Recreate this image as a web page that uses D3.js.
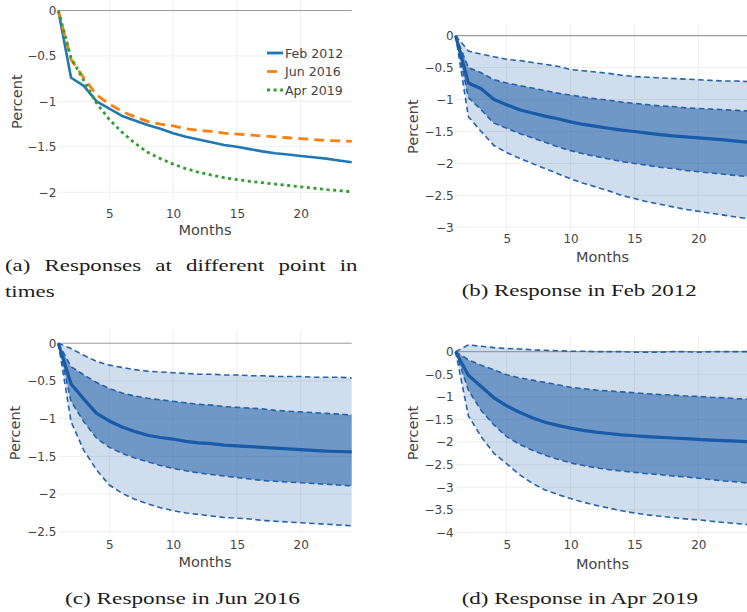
<!DOCTYPE html>
<html>
<head>
<meta charset="utf-8">
<script src="https://cdn.jsdelivr.net/npm/d3@7"></script>
<style>
  html, body { margin: 0; padding: 0; background: #fff; }
  svg { display: block; }
</style>
</head>
<body>
<svg id="fig" width="747" height="612"></svg>
<script>
// ---- data: impulse responses (percent) by month after the shock ----
const months = [1,2,3,4,5,6,7,8,9,10,11,12,13,14,15,16,17,18,19,20,21,22,23,24];

const feb2012       = [0,-0.74,-0.83,-1.00,-1.08,-1.16,-1.21,-1.26,-1.30,-1.35,-1.39,-1.42,-1.45,-1.48,-1.50,-1.525,-1.55,-1.57,-1.585,-1.60,-1.615,-1.63,-1.65,-1.67];
const feb2012Hi95   = [0,-0.24,-0.29,-0.33,-0.37,-0.39,-0.42,-0.45,-0.48,-0.53,-0.55,-0.57,-0.59,-0.62,-0.64,-0.65,-0.66,-0.67,-0.68,-0.69,-0.70,-0.71,-0.71,-0.72];
const feb2012Hi68   = [0,-0.50,-0.58,-0.69,-0.74,-0.78,-0.82,-0.86,-0.90,-0.93,-0.96,-0.99,-1.01,-1.04,-1.06,-1.08,-1.10,-1.11,-1.13,-1.14,-1.15,-1.16,-1.17,-1.18];
const feb2012Lo68   = [0,-0.97,-1.16,-1.37,-1.45,-1.53,-1.60,-1.67,-1.74,-1.80,-1.85,-1.89,-1.93,-1.97,-2.00,-2.03,-2.06,-2.08,-2.11,-2.13,-2.15,-2.17,-2.19,-2.21];
const feb2012Lo95   = [0,-1.27,-1.50,-1.72,-1.83,-1.92,-2.00,-2.08,-2.16,-2.24,-2.31,-2.37,-2.43,-2.50,-2.55,-2.60,-2.64,-2.68,-2.72,-2.75,-2.78,-2.81,-2.84,-2.87];

const jun2016       = [0,-0.54,-0.74,-0.93,-1.03,-1.11,-1.17,-1.22,-1.25,-1.27,-1.30,-1.32,-1.33,-1.35,-1.36,-1.37,-1.38,-1.39,-1.40,-1.41,-1.42,-1.43,-1.435,-1.44];
const jun2016Hi95   = [0,-0.07,-0.16,-0.24,-0.29,-0.32,-0.35,-0.37,-0.38,-0.39,-0.40,-0.41,-0.41,-0.42,-0.42,-0.43,-0.43,-0.44,-0.44,-0.44,-0.45,-0.45,-0.45,-0.46];
const jun2016Hi68   = [0,-0.31,-0.42,-0.52,-0.60,-0.66,-0.70,-0.73,-0.75,-0.77,-0.79,-0.81,-0.82,-0.84,-0.85,-0.86,-0.87,-0.89,-0.90,-0.91,-0.92,-0.93,-0.94,-0.95];
const jun2016Lo68   = [0,-0.77,-1.04,-1.26,-1.38,-1.46,-1.52,-1.57,-1.62,-1.66,-1.69,-1.72,-1.74,-1.76,-1.78,-1.80,-1.82,-1.83,-1.84,-1.85,-1.86,-1.87,-1.88,-1.89];
const jun2016Lo95   = [0,-1.04,-1.42,-1.68,-1.88,-1.99,-2.07,-2.13,-2.18,-2.22,-2.25,-2.27,-2.29,-2.31,-2.32,-2.33,-2.35,-2.36,-2.37,-2.38,-2.39,-2.40,-2.41,-2.42];

const apr2019       = [0,-0.52,-0.77,-1.02,-1.20,-1.34,-1.46,-1.56,-1.63,-1.69,-1.74,-1.78,-1.81,-1.84,-1.86,-1.88,-1.895,-1.91,-1.925,-1.94,-1.955,-1.97,-1.98,-1.995];
const apr2019Hi95   = [0,0.15,0.12,0.09,0.07,0.06,0.04,0.03,0.02,0.01,0.01,0.00,0.00,0.00,-0.01,-0.01,-0.01,0.00,0.00,-0.01,0.00,0.00,0.00,0.00];
const apr2019Hi68   = [0,-0.18,-0.30,-0.40,-0.51,-0.58,-0.63,-0.68,-0.73,-0.79,-0.82,-0.85,-0.87,-0.89,-0.91,-0.93,-0.95,-0.96,-0.98,-0.99,-1.01,-1.02,-1.04,-1.05];
const apr2019Lo68   = [0,-0.85,-1.30,-1.62,-1.88,-2.05,-2.18,-2.29,-2.38,-2.46,-2.52,-2.57,-2.61,-2.64,-2.67,-2.70,-2.72,-2.75,-2.77,-2.80,-2.83,-2.86,-2.88,-2.91];
const apr2019Lo95   = [0,-1.42,-1.88,-2.25,-2.48,-2.72,-2.91,-3.06,-3.16,-3.25,-3.33,-3.40,-3.46,-3.52,-3.57,-3.61,-3.64,-3.67,-3.70,-3.72,-3.75,-3.78,-3.80,-3.83];

const seriesNames = ["Feb 2012", "Jun 2016", "Apr 2019"];
const xTicks  = [5, 10, 15, 20];
const yTicksA = [0, -0.5, -1, -1.5, -2];
const yTicksB = [0, -0.5, -1, -1.5, -2, -2.5, -3];
const yTicksC = [0, -0.5, -1, -1.5, -2, -2.5];
const yTicksD = [0, -0.5, -1, -1.5, -2, -2.5, -3, -3.5, -4];
const captions = {
  a: ["(a) Responses at different point in", "times"],
  b: "(b) Response in Feb 2012",
  c: "(c) Response in Jun 2016",
  d: "(d) Response in Apr 2019"
};

// ---- styling ----
const SANS = "'DejaVu Sans', Verdana, sans-serif";
const SERIF = "'Liberation Serif', 'DejaVu Serif', serif";
const TXT = "#444";
const GRID = "#eeeeee";
const ZERO = "#9a9a9a";
const lineColors = ["#1f77b4", "#ff7f0e", "#2ca02c"];
const lineDash = [null, "10,6", "3,3.6"];
const BAND_LIGHT = "rgba(31,94,168,0.21)";
const BAND_DARK  = "rgba(31,94,168,0.55)";
const BAND_EDGE  = "#2563ad";
const MEDIAN     = "#195ba6";

const svg = d3.select("#fig");
svg.append("rect").attr("width", 747).attr("height", 612).attr("fill", "#fff");

const fmt = d3.format("~g");

function panel(cfg) {
  const g = svg.append("g");
  const x = d3.scaleLinear().domain([1, 24]).range([cfg.x0, cfg.x1]);
  const y = d3.scaleLinear().domain([cfg.yMin, cfg.yMax]).range([cfg.bottom, cfg.top]);

  // grid
  g.append("g").selectAll("line").data(xTicks).join("line")
    .attr("x1", d => x(d)).attr("x2", d => x(d))
    .attr("y1", cfg.top).attr("y2", cfg.bottom)
    .attr("stroke", GRID).attr("stroke-width", 1);
  g.append("g").selectAll("line").data(cfg.yTicks.filter(d => d !== 0)).join("line")
    .attr("x1", cfg.x0).attr("x2", cfg.x1)
    .attr("y1", d => y(d)).attr("y2", d => y(d))
    .attr("stroke", GRID).attr("stroke-width", 1);

  // axes (labels only)
  const ay = g.append("g").attr("transform", `translate(${cfg.x0 - 2},0)`)
    .call(d3.axisLeft(y).tickValues(cfg.yTicks).tickSize(0).tickPadding(0).tickFormat(fmt));
  ay.select(".domain").remove();
  ay.selectAll("text").attr("fill", TXT).style("font-family", SANS).style("font-size", "12px");

  const ax = g.append("g").attr("transform", `translate(0,${cfg.xLabelY})`)
    .call(d3.axisBottom(x).tickValues(xTicks).tickSize(0).tickPadding(0).tickFormat(fmt));
  ax.select(".domain").remove();
  ax.selectAll("text").attr("fill", TXT).attr("dy", "0.36em")
    .style("font-family", SANS).style("font-size", "12px");

  // titles
  g.append("text").attr("x", (cfg.x0 + cfg.x1) / 2).attr("y", cfg.monthsY)
    .attr("text-anchor", "middle").attr("dy", "0.36em")
    .attr("fill", TXT).style("font-family", SANS).style("font-size", "14.5px").text("Months");
  g.append("text")
    .attr("transform", `translate(${cfg.percentX},${cfg.percentY}) rotate(-90)`)
    .attr("text-anchor", "middle").attr("dy", "0.36em")
    .attr("fill", TXT).style("font-family", SANS).style("font-size", "14.5px").text("Percent");

  return { g, x, y };
}

function bandPanel(cfg, med, hi95, hi68, lo68, lo95) {
  const { g, x, y } = panel(cfg);
  const rows = months.map((m, i) => ({ m, med: med[i], hi95: hi95[i], hi68: hi68[i], lo68: lo68[i], lo95: lo95[i] }));
  const area = (lo, hi) => d3.area().x(d => x(d.m)).y0(d => y(d[lo])).y1(d => y(d[hi]));
  const line = key => d3.line().x(d => x(d.m)).y(d => y(d[key]));

  g.append("path").datum(rows).attr("d", area("lo95", "hi95")).attr("fill", BAND_LIGHT);
  g.append("path").datum(rows).attr("d", area("lo68", "hi68")).attr("fill", BAND_DARK);
  g.append("line").attr("x1", cfg.x0).attr("x2", cfg.x1).attr("y1", y(0)).attr("y2", y(0))
    .attr("stroke", ZERO).attr("stroke-width", 1.2);
  ["hi95", "hi68", "lo68", "lo95"].forEach(k => {
    g.append("path").datum(rows).attr("d", line(k)).attr("fill", "none")
      .attr("stroke", BAND_EDGE).attr("stroke-width", 1.6).attr("stroke-dasharray", "5.5,3.5");
  });
  g.append("path").datum(rows).attr("d", line("med")).attr("fill", "none")
    .attr("stroke", MEDIAN).attr("stroke-width", 3.2).attr("stroke-linejoin", "round");
}

// ---- panel (a): three medians ----
(function () {
  const cfg = { x0: 58.3, x1: 351.7, top: 0, bottom: 200, yMin: -2.085, yMax: 0.1155,
    yTicks: yTicksA, xLabelY: 213.3, monthsY: 230, percentX: 17, percentY: 101.7 };
  const { g, x, y } = panel(cfg);
  g.append("line").attr("x1", cfg.x0).attr("x2", cfg.x1).attr("y1", y(0)).attr("y2", y(0))
    .attr("stroke", ZERO).attr("stroke-width", 1.2);
  const all = [feb2012, jun2016, apr2019];
  const line = d3.line().x((d, i) => x(months[i])).y(d => y(d));
  all.forEach((s, i) => {
    g.append("path").datum(s).attr("d", line).attr("fill", "none")
      .attr("stroke", lineColors[i]).attr("stroke-width", i === 0 ? 2.6 : 2.8)
      .attr("stroke-dasharray", lineDash[i]).attr("stroke-linejoin", "round");
  });
  // legend
  const leg = g.append("g").attr("transform", "translate(267,53)");
  seriesNames.forEach((name, i) => {
    const row = leg.append("g").attr("transform", `translate(0,${i * 18.5})`);
    row.append("line").attr("x1", 0).attr("x2", 16).attr("y1", 0).attr("y2", 0)
      .attr("stroke", lineColors[i]).attr("stroke-width", 2.8).attr("stroke-dasharray", lineDash[i]);
    row.append("text").attr("x", 18).attr("y", 0).attr("dy", "0.36em")
      .attr("fill", TXT).style("font-family", SANS).style("font-size", "12.6px").text(name);
  });
})();

// ---- panels (b)-(d): median with 68% and 95% bands ----
bandPanel({ x0: 455.6, x1: 749.4, top: 25, bottom: 231, yMin: -3.058, yMax: 0.167,
  yTicks: yTicksB, xLabelY: 238.3, monthsY: 256.7, percentX: 413, percentY: 126.7 },
  feb2012, feb2012Hi95, feb2012Hi68, feb2012Lo68, feb2012Lo95);

bandPanel({ x0: 58.3, x1: 351.7, top: 330, bottom: 533, yMin: -2.516, yMax: 0.176,
  yTicks: yTicksC, xLabelY: 545, monthsY: 561.7, percentX: 15, percentY: 433 },
  jun2016, jun2016Hi95, jun2016Hi68, jun2016Lo68, jun2016Lo95);

bandPanel({ x0: 455.6, x1: 749.4, top: 335.4, bottom: 537, yMin: -4.1, yMax: 0.36,
  yTicks: yTicksD, xLabelY: 545, monthsY: 563.3, percentX: 413, percentY: 433 },
  apr2019, apr2019Hi95, apr2019Hi68, apr2019Lo68, apr2019Lo95);

// ---- captions ----
function caption(str, x, y, width) {
  const t = svg.append("text").attr("x", x).attr("y", y)
    .attr("fill", "#1c1c1c").style("font-family", SERIF).style("font-size", "17.5px").text(str);
  if (width) t.attr("textLength", width).attr("lengthAdjust", "spacingAndGlyphs");
  return t;
}
// stretch factor of the serif face so that caption widths fit
const probe = caption(captions.b, 0, -50);
const k = 235 / probe.node().getComputedTextLength();
probe.remove();

caption(captions.b, 461.7, 296, 235);
caption(captions.c, 65, 604, 235);
caption(captions.d, 461.7, 604, 236.3);

// justified first line of caption (a)
(function () {
  const words = captions.a[0].split(" ");
  const left = 5, right = 357.5;
  const nodes = words.map(w => caption(w, 0, 271));
  const widths = nodes.map(n => n.node().getComputedTextLength() * k);
  const gap = (right - left - d3.sum(widths)) / (words.length - 1);
  let cx = left;
  nodes.forEach((n, i) => {
    n.attr("x", cx).attr("textLength", widths[i]).attr("lengthAdjust", "spacingAndGlyphs");
    cx += widths[i] + gap;
  });
  const t2 = caption(captions.a[1], left, 297);
  t2.attr("textLength", t2.node().getComputedTextLength() * k).attr("lengthAdjust", "spacingAndGlyphs");
})();
</script>
</body>
</html>
